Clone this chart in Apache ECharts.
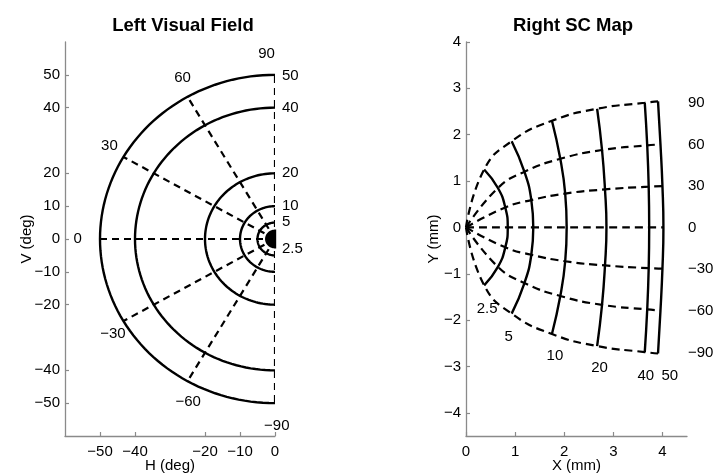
<!DOCTYPE html>
<html><head><meta charset="utf-8">
<script src="https://cdn.jsdelivr.net/npm/echarts@6/dist/echarts.min.js"></script>
<style>html,body{margin:0;padding:0;background:#fff}#c{width:715px;height:475px}</style>
</head><body><div id="c"></div>
<script>
// ---------- data ----------
const eccentricities = [2.5, 5, 10, 20, 40, 50];          // deg
const eccLabels = ['2.5', '5', '10', '20', '40', '50'];
const directions = [-90, -60, -30, 0, 30, 60, 90];         // deg
const vfXTicks = [-50, -40, -20, -10, 0];
const vfYTicks = [-50, -40, -20, -10, 0, 10, 20, 40, 50];
const scXTicks = [0, 1, 2, 3, 4];
const scYTicks = [-4, -3, -2, -1, 0, 1, 2, 3, 4];
// SC map grid intersections (mm), rows = eccentricity, columns = direction -90..90
const scX = [
  [0.37, 0.65, 0.80, 0.85, 0.80, 0.65, 0.37],
  [0.93, 1.19, 1.33, 1.37, 1.33, 1.19, 0.93],
  [1.75, 1.92, 2.02, 2.05, 2.02, 1.92, 1.75],
  [2.67, 2.77, 2.83, 2.86, 2.83, 2.77, 2.67],
  [3.64, 3.69, 3.72, 3.73, 3.72, 3.69, 3.64],
  [3.91, 3.96, 4.00, 4.02, 4.00, 3.96, 3.91]
];
const scY = [
  [-1.25, -0.85, -0.43, 0, 0.43, 0.85, 1.25],
  [-1.86, -1.20, -0.59, 0, 0.59, 1.20, 1.86],
  [-2.30, -1.48, -0.73, 0, 0.73, 1.48, 2.30],
  [-2.56, -1.67, -0.82, 0, 0.82, 1.67, 2.56],
  [-2.69, -1.77, -0.88, 0, 0.88, 1.77, 2.69],
  [-2.72, -1.79, -0.89, 0, 0.89, 1.79, 2.72]
];
const scOrigin = [0, 0];
// label anchors (data coordinates)
const vfEccLabelPos = [[2, -3], [2, 5.2], [2, 10.1], [2, 20.2], [2, 40], [2, 49.8]];
const vfDirLabelPos = [[0.5, -57], [-24.8, -49.5], [-46.3, -28.8], [-56.4, 0], [-47.3, 28.3], [-26.4, 49], [-2.4, 56.5]];
const scDirLabelPos = [[4.52, -2.71], [4.52, -1.80], [4.52, -0.89], [4.52, 0], [4.52, 0.89], [4.52, 1.78], [4.52, 2.69]];
const scEccLabelPos = [[0.43, -1.76], [0.87, -2.36], [1.81, -2.78], [2.72, -3.03], [3.66, -3.2], [4.15, -3.2]];

// ---------- chart ----------
const FONT = '"Liberation Sans", Arial, Helvetica, sans-serif';
const minus = v => String(v).replace('-', '\u2212');
const AX = '#8a8a8a';

function valueAxis(gridIndex, min, max, ticks, extra) {
  return Object.assign({
    type: 'value', gridIndex, min, max,
    axisLine: { show: true, onZero: false, lineStyle: { color: AX, width: 1.3 } },
    axisTick: { show: true, inside: true, length: 4, customValues: ticks, lineStyle: { color: AX, width: 1.2 } },
    axisLabel: { customValues: ticks, color: '#000', fontSize: 15, fontFamily: FONT, formatter: minus },
    splitLine: { show: false },
    nameLocation: 'middle',
    nameMoveOverlap: false,
    nameTextStyle: { color: '#000', fontSize: 15, fontFamily: FONT }
  }, extra);
}

const labelSeries = (xi, positions, texts, position) => ({
  type: 'scatter', xAxisIndex: xi, yAxisIndex: xi, symbolSize: 0, clip: false, silent: true,
  itemStyle: { opacity: 1 },
  data: positions.map((p, i) => ({ value: p, label: { formatter: texts[i] } })),
  label: { show: true, position: position, distance: 0, color: '#000', opacity: 1,
           textBorderWidth: 0, fontSize: 15, fontFamily: FONT },
  z: 10
});

const series = [];

// Left visual field: iso-eccentricity semicircles
series.push({
  type: 'custom', xAxisIndex: 0, yAxisIndex: 0, silent: true,
  data: eccentricities.map(r => [r]),
  renderItem: function (params, api) {
    const r = api.value(0);
    const pts = [];
    for (let a = -90; a <= 90; a += 2) {
      const t = a * Math.PI / 180;
      pts.push(api.coord([-r * Math.cos(t), r * Math.sin(t)]));
    }
    const filled = r === eccentricities[0];
    return {
      type: filled ? 'polygon' : 'polyline', shape: { points: pts },
      style: { stroke: '#000', lineWidth: 2.4, fill: filled ? '#000' : null }
    };
  }
});
// Left visual field: iso-direction radial dashed lines
series.push({
  type: 'custom', xAxisIndex: 0, yAxisIndex: 0, silent: true, clip: true,
  data: directions.map(d => [d]),
  renderItem: function (params, api) {
    const t = api.value(0) * Math.PI / 180;
    const R = eccentricities[eccentricities.length - 1];
    const p0 = api.coord([0, 0]);
    const p1 = api.coord([-R * Math.cos(t), R * Math.sin(t)]);
    return {
      type: 'line', shape: { x1: p0[0], y1: p0[1], x2: p1[0], y2: p1[1] },
      style: { stroke: '#000', lineWidth: 2.2, lineDash: [7, 5], fill: null }
    };
  }
});
series.push(labelSeries(0, vfEccLabelPos, eccLabels, 'right'));
series.push(labelSeries(0, vfDirLabelPos, directions.map(minus), 'inside'));

// Right SC map: iso-eccentricity contours (solid)
eccentricities.forEach((e, i) => {
  series.push({
    type: 'line', xAxisIndex: 1, yAxisIndex: 1, silent: true, smooth: true, showSymbol: false, symbol: 'none',
    data: directions.map((d, j) => [scX[i][j], scY[i][j]]),
    lineStyle: { color: '#000', width: 2.4 }
  });
});
// Right SC map: iso-direction lines (dashed)
directions.forEach((d, j) => {
  series.push({
    type: 'line', xAxisIndex: 1, yAxisIndex: 1, silent: true, smooth: true, showSymbol: false, symbol: 'none',
    data: [scOrigin].concat(eccentricities.map((e, i) => [scX[i][j], scY[i][j]])),
    lineStyle: { color: '#000', width: 2.2, type: [8, 5] }
  });
});
series.push(labelSeries(1, scDirLabelPos, directions.map(minus), 'right'));
series.push(labelSeries(1, scEccLabelPos, eccLabels, 'inside'));

const chart = echarts.init(document.getElementById('c'), null, { renderer: 'canvas' });
chart.setOption({
  animation: false,
  backgroundColor: '#fff',
  title: [
    { text: 'Left Visual Field', left: 178, top: 11, textAlign: 'center',
      textStyle: { fontSize: 18.5, fontWeight: 'bold', color: '#000', fontFamily: FONT } },
    { text: 'Right SC Map', left: 568, top: 11, textAlign: 'center',
      textStyle: { fontSize: 18.5, fontWeight: 'bold', color: '#000', fontFamily: FONT } }
  ],
  grid: [
    { left: 65, top: 42, width: 210, height: 394, containLabel: false, outerBoundsMode: 'none' },
    { left: 466, top: 42, width: 221, height: 394, containLabel: false, outerBoundsMode: 'none' }
  ],
  xAxis: [
    valueAxis(0, -60, 0, vfXTicks, { name: 'H (deg)', nameGap: 22, axisLabel: { customValues: vfXTicks, color: '#000', fontSize: 15, fontFamily: FONT, formatter: minus, margin: 8 } }),
    valueAxis(1, 0, 4.5, scXTicks, { name: 'X (mm)', nameGap: 22, axisLabel: { customValues: scXTicks, color: '#000', fontSize: 15, fontFamily: FONT, formatter: minus, margin: 8 } })
  ],
  yAxis: [
    valueAxis(0, -60, 60, vfYTicks, { name: 'V (deg)', nameGap: 31, axisLabel: { customValues: vfYTicks, color: '#000', fontSize: 15, fontFamily: FONT, formatter: minus, margin: 5 } }),
    valueAxis(1, -4.5, 4, scYTicks, { name: 'Y (mm)', nameGap: 25, axisLabel: { customValues: scYTicks, color: '#000', fontSize: 15, fontFamily: FONT, formatter: minus, margin: 5 } })
  ],
  series: series
});
</script>
</body></html>
